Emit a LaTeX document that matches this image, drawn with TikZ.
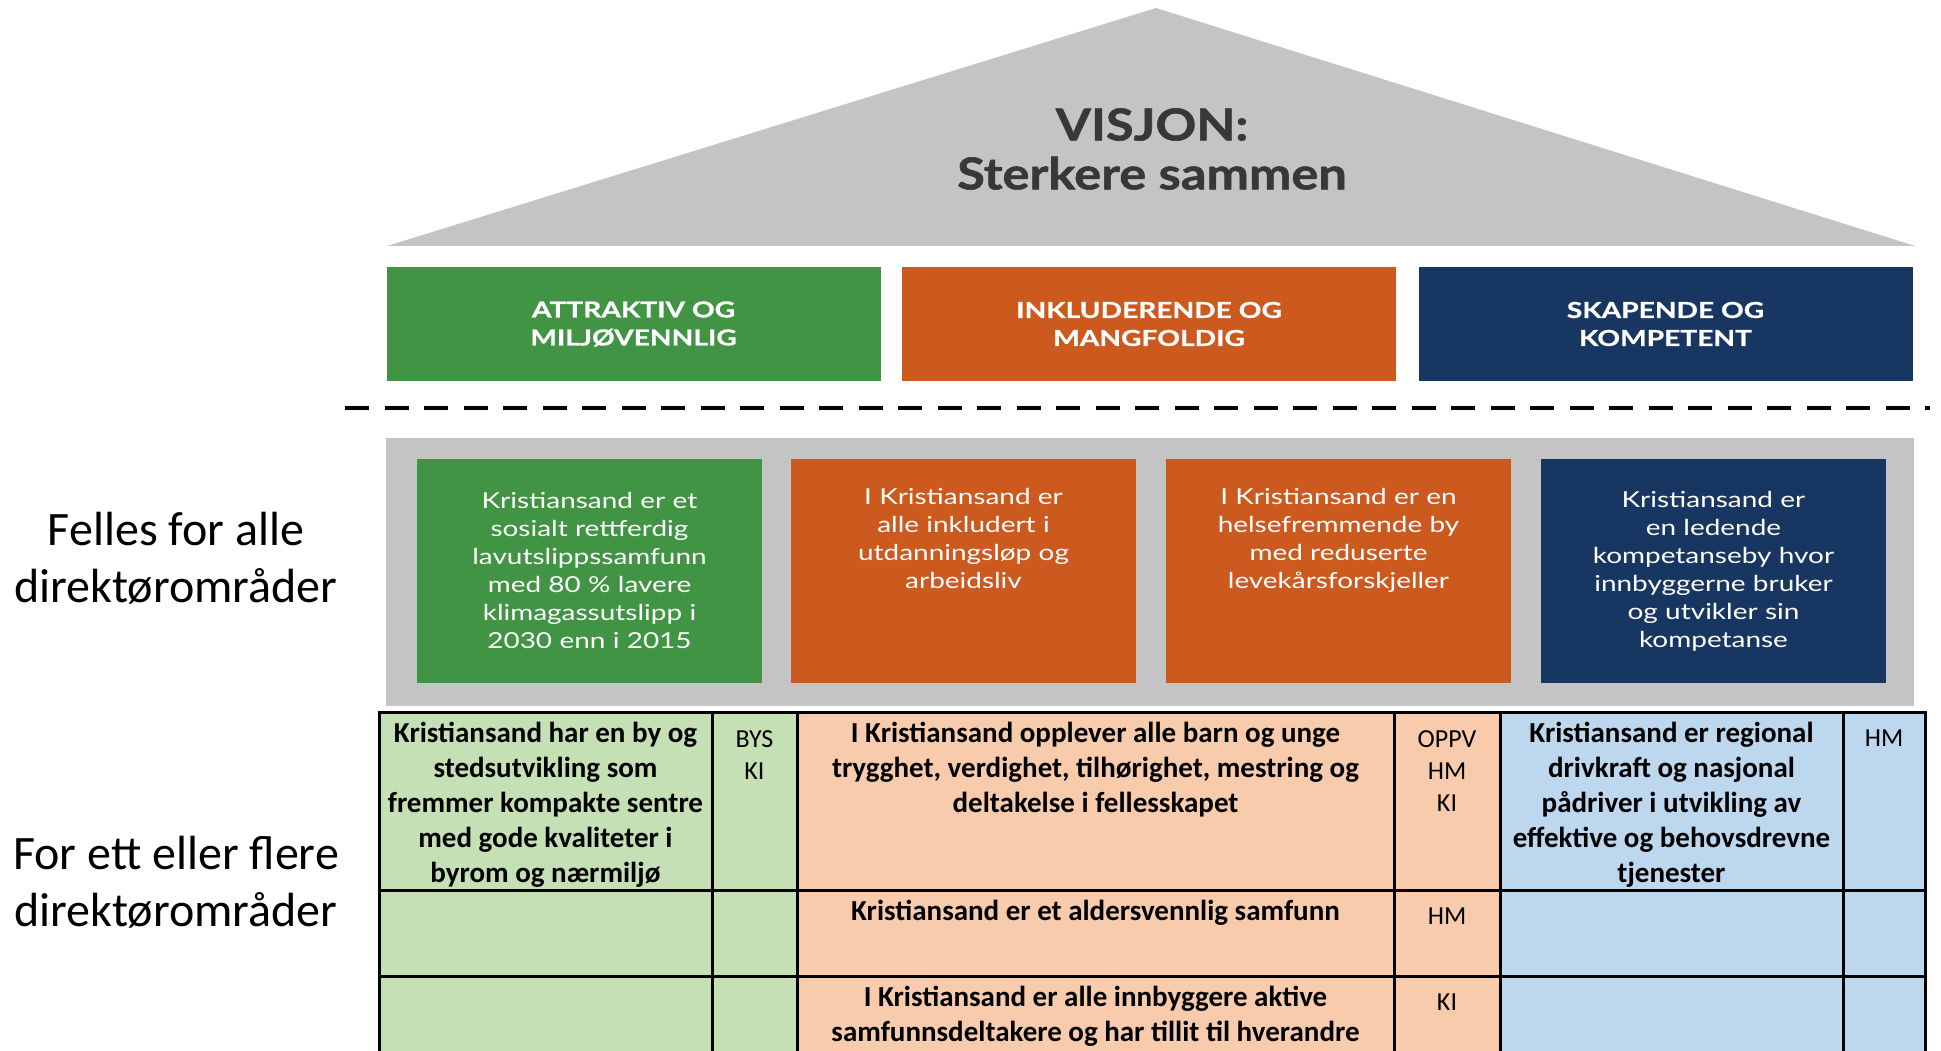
\documentclass[tikz,border=0pt]{standalone}
\usepackage{fontspec}
\setmainfont{Carlito}
\newfontfamily\roofsfont[FakeStretch=1.15, BoldFeatures={FakeBold=1.2}]{Lato}
\newfontfamily\headfont[FakeStretch=1.28, BoldFeatures={FakeBold=0.8}]{Lato}
\newfontfamily\goalfont[FakeStretch=1.27]{Lato}
\usetikzlibrary{positioning}

\definecolor{roofgray}{RGB}{196,196,196}
\definecolor{rooftext}{RGB}{56,56,56}
\definecolor{pgreen}{RGB}{65,148,68}
\definecolor{porange}{RGB}{204,89,29}
\definecolor{pnavy}{RGB}{23,55,98}
\definecolor{tgreen}{RGB}{197,224,180}
\definecolor{torange}{RGB}{248,203,173}
\definecolor{tblue}{RGB}{189,215,238}

\begin{document}
\begin{tikzpicture}[
    x=1pt, y=-1pt,
    pillar/.style={rectangle, minimum width=494pt, minimum height=114pt, inner sep=0pt, outer sep=0pt, text=white, align=center, font=\headfont\bfseries\fontsize{22}{28}\selectfont},
    goalbox/.style={rectangle, minimum width=345pt, minimum height=224pt, inner sep=0pt, outer sep=0pt},
    goaltext/.style={anchor=north, inner sep=0pt, text=white, align=center, text width=340pt, font=\goalfont\fontsize{22}{28}\selectfont},
    cell/.style={rectangle, draw=black, line width=3pt, inner sep=0pt, outer sep=0pt},
    celltext/.style={anchor=north, inner sep=0pt, align=center, font=\bfseries\fontsize{29}{35}\selectfont},
    code/.style={anchor=north, inner sep=0pt, align=center, font=\fontsize{26}{32}\selectfont},
    side/.style={align=center, inner sep=0pt, font=\fontsize{48}{57}\selectfont}
]
\useasboundingbox (0,0) rectangle (1941,1051);
\fill[white] (0,0) rectangle (1941,1051);
\clip (0,0) rectangle (1941,1051);

% Roof with the vision
\fill[roofgray] (387,246) -- (1156,8) -- (1915,246) -- cycle;
\node[font=\roofsfont\bfseries\fontsize{44}{49}\selectfont, text=rooftext, align=center] (vision) at (1152,149) {VISJON:\\Sterkere sammen};

% Three pillars
\node[pillar, fill=pgreen] (green) at (633.5,324) {ATTRAKTIV OG\\MILJØVENNLIG};
\node[pillar, fill=porange] (orange) at (1149,324) {INKLUDERENDE OG\\MANGFOLDIG};
\node[pillar, fill=pnavy] (navy) at (1665.5,324) {SKAPENDE OG\\KOMPETENT};

% Separator
\draw[line width=4pt, dash pattern=on 24pt off 15.5pt] (345,408) -- (1930,408);

% Common goals on gray panel
\node[rectangle, fill=roofgray, minimum width=1528pt, minimum height=268pt, inner sep=0pt] (panel) at (1150,572) {};
\node[goalbox, fill=pgreen] (goal1) at (589.5,571) {};
\node[goalbox, fill=porange] (goal2) at (963.5,571) {};
\node[goalbox, fill=porange] (goal3) at (1338.5,571) {};
\node[goalbox, fill=pnavy] (goal4) at (1713.5,571) {};
\node[goaltext] (goal1t) at ([yshift=-33pt]goal1.north) {Kristiansand er et\\sosialt rettferdig\\lavutslippssamfunn\\med 80 \% lavere\\klimagassutslipp i\\2030 enn i 2015};
\node[goaltext] (goal2t) at ([yshift=-29pt]goal2.north) {I Kristiansand er\\alle inkludert i\\utdanningsløp og\\arbeidsliv};
\node[goaltext] (goal3t) at ([yshift=-29pt]goal3.north) {I Kristiansand er en\\helsefremmende by\\med reduserte\\levekårsforskjeller};
\node[goaltext] (goal4t) at ([yshift=-32pt]goal4.north) {Kristiansand er\\en ledende\\kompetanseby hvor\\innbyggerne bruker\\og utvikler sin\\kompetanse};

% Side labels
\node[side] (common) at (176,558) {Felles for alle\\direktørområder};
\node[side] (several) at (176,882) {For ett eller flere\\direktørområder};

% Table - row 1
\node[cell, fill=tgreen, minimum width=333pt, minimum height=178pt] (g1) at (545.5,801) {};
\node[cell, fill=tgreen, minimum width=85pt, minimum height=178pt] (gc1) at (754.5,801) {};
\node[cell, fill=torange, minimum width=597pt, minimum height=178pt] (o1) at (1095.5,801) {};
\node[cell, fill=torange, minimum width=106pt, minimum height=178pt] (oc1) at (1447,801) {};
\node[cell, fill=tblue, minimum width=343pt, minimum height=178pt] (b1) at (1671.5,801) {};
\node[cell, fill=tblue, minimum width=82pt, minimum height=178pt] (bc1) at (1884,801) {};
% row 2
\node[cell, fill=tgreen, minimum width=333pt, minimum height=86pt] (g2) at (545.5,933) {};
\node[cell, fill=tgreen, minimum width=85pt, minimum height=86pt] (gc2) at (754.5,933) {};
\node[cell, fill=torange, minimum width=597pt, minimum height=86pt] (o2) at (1095.5,933) {};
\node[cell, fill=torange, minimum width=106pt, minimum height=86pt] (oc2) at (1447,933) {};
\node[cell, fill=tblue, minimum width=343pt, minimum height=86pt] (b2) at (1671.5,933) {};
\node[cell, fill=tblue, minimum width=82pt, minimum height=86pt] (bc2) at (1884,933) {};
% row 3
\node[cell, fill=tgreen, minimum width=333pt, minimum height=110pt] (g3) at (545.5,1031) {};
\node[cell, fill=tgreen, minimum width=85pt, minimum height=110pt] (gc3) at (754.5,1031) {};
\node[cell, fill=torange, minimum width=597pt, minimum height=110pt] (o3) at (1095.5,1031) {};
\node[cell, fill=torange, minimum width=106pt, minimum height=110pt] (oc3) at (1447,1031) {};
\node[cell, fill=tblue, minimum width=343pt, minimum height=110pt] (b3) at (1671.5,1031) {};
\node[cell, fill=tblue, minimum width=82pt, minimum height=110pt] (bc3) at (1884,1031) {};

% Table texts
\node[celltext] (g1t) at ([yshift=-10pt]g1.north) {Kristiansand har en by og\\stedsutvikling som\\fremmer kompakte sentre\\med gode kvaliteter i\\byrom og nærmiljø};
\node[code] (gc1t) at ([yshift=-18pt]gc1.north) {BYS\\KI};
\node[celltext] (o1t) at ([yshift=-10pt]o1.north) {I Kristiansand opplever alle barn og unge\\trygghet, verdighet, tilhørighet, mestring og\\deltakelse i fellesskapet};
\node[code] (oc1t) at ([yshift=-18pt]oc1.north) {OPPV\\HM\\KI};
\node[celltext] (b1t) at ([yshift=-10pt]b1.north) {Kristiansand er regional\\drivkraft og nasjonal\\pådriver i utvikling av\\effektive og behovsdrevne\\tjenester};
\node[code] (bc1t) at ([yshift=-18pt]bc1.north) {HM};
\node[celltext] (o2t) at ([yshift=-10pt]o2.north) {Kristiansand er et aldersvennlig samfunn};
\node[code] (oc2t) at ([yshift=-18pt]oc2.north) {HM};
\node[celltext] (o3t) at ([yshift=-10pt]o3.north) {I Kristiansand er alle innbyggere aktive\\samfunnsdeltakere og har tillit til hverandre};
\node[code] (oc3t) at ([yshift=-18pt]oc3.north) {KI};

\end{tikzpicture}
\end{document}
